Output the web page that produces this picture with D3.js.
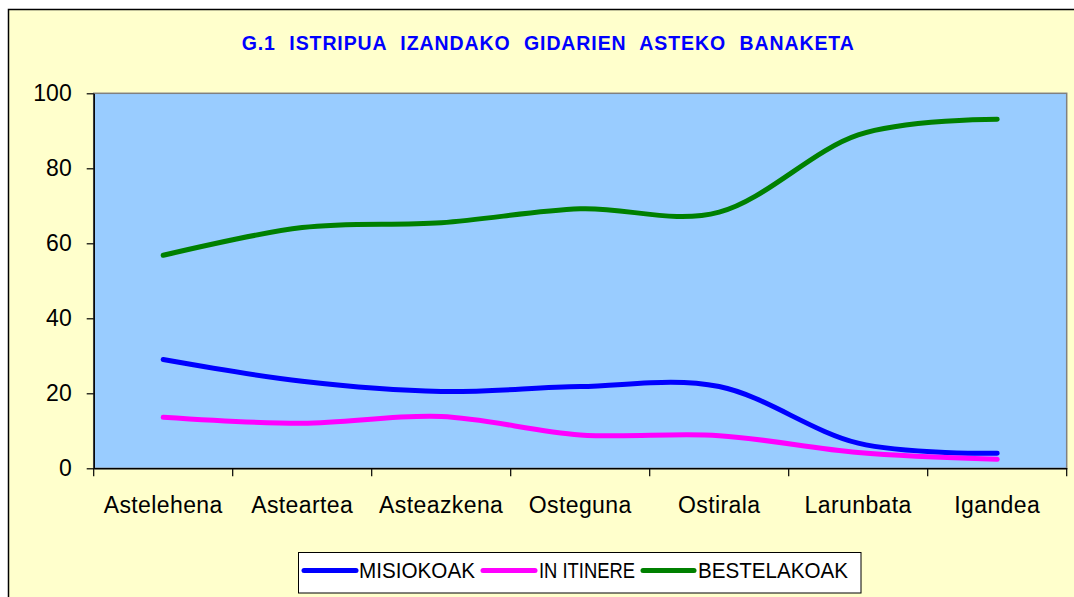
<!DOCTYPE html>
<html>
<head>
<meta charset="utf-8">
<script src="https://cdn.jsdelivr.net/npm/d3@7"></script>
<style>
  html, body { margin: 0; padding: 0; background: #ffffff; }
  svg { display: block; }
  text { font-family: "Liberation Sans", Arial, sans-serif; }
</style>
</head>
<body>
<svg id="chart" width="1074" height="597"></svg>
<script>
const chartTitle = "G.1 ISTRIPUA IZANDAKO GIDARIEN ASTEKO BANAKETA";
const categories = ["Astelehena", "Asteartea", "Asteazkena", "Osteguna", "Ostirala", "Larunbata", "Igandea"];
const misiokoak   = [29.0, 23.2, 20.5, 21.8, 21.8, 6.7, 4.0];
const inItinere   = [13.6, 12.0, 13.8, 8.9, 8.7, 4.2, 2.4];
const bestelakoak = [56.8, 64.2, 65.5, 69.2, 68.3, 88.9, 93.1];
const seriesNames = ["MISIOKOAK", "IN ITINERE", "BESTELAKOAK"];
const seriesColors = ["#0000FF", "#FF00FF", "#008000"];
const yTicks = [0, 20, 40, 60, 80, 100];

(function () {
const series = [misiokoak, inItinere, bestelakoak].map((vals, i) => ({
  name: seriesNames[i], color: seriesColors[i],
  values: categories.map((c, j) => ({ cat: c, v: vals[j] }))
}));

const svg = d3.select("#chart");

// chart area
svg.append("rect")
  .attr("x", 8.5).attr("y", 9.5).attr("width", 1100).attr("height", 620)
  .attr("fill", "#FFFFCC").attr("stroke", "#000").attr("stroke-width", 1.5);

const pL = 93.7, pR = 1066.7, pT = 93.3, pB = 468.3;
const x = d3.scaleBand().domain(categories).range([pL, pR]);
const y = d3.scaleLinear().domain([0, 100]).range([pB, pT]);

// plot area
svg.append("rect")
  .attr("x", pL).attr("y", pT).attr("width", pR - pL).attr("height", pB - pT)
  .attr("fill", "#99CCFF").attr("stroke", "#808080").attr("stroke-width", 1.5);

// title
const title = svg.append("text")
  .attr("x", 241.7).attr("y", 50)
  .attr("fill", "#0000FF").attr("font-weight", "bold").attr("font-size", 19.5)
  .attr("letter-spacing", 0.9)
  .text(chartTitle);
{
  const len = title.node().getComputedTextLength();
  const target = 613;
  title.attr("word-spacing", Math.max(0, (target - len) / 5));
}

// y axis
const yAxis = svg.append("g")
  .attr("transform", `translate(${pL},0)`)
  .call(d3.axisLeft(y).tickValues(yTicks).tickSize(7).tickPadding(15).tickSizeOuter(0));
yAxis.select(".domain").attr("stroke", "#000").attr("stroke-width", 1.5);
yAxis.selectAll(".tick line").attr("stroke", "#000").attr("stroke-width", 1.2);
yAxis.selectAll("text").attr("font-size", 23).attr("fill", "#000")
  .attr("font-family", "Liberation Sans, Arial, sans-serif");

// x axis
const xAxis = svg.append("g")
  .attr("transform", `translate(0,${pB})`)
  .call(d3.axisBottom(x).tickSize(0).tickSizeOuter(0));
xAxis.select(".domain").attr("stroke", "#000").attr("stroke-width", 1.5);
xAxis.selectAll("text")
  .attr("y", 45).attr("dy", 0)
  .attr("font-size", 23).attr("fill", "#000").attr("letter-spacing", 0.4)
  .attr("font-family", "Liberation Sans, Arial, sans-serif");
const bounds = categories.map(c => x(c)).concat([x(categories[categories.length - 1]) + x.bandwidth()]);
xAxis.selectAll(".bound").data(bounds).enter().append("line")
  .attr("class", "bound")
  .attr("x1", d => d).attr("x2", d => d)
  .attr("y1", 0).attr("y2", 8)
  .attr("stroke", "#000").attr("stroke-width", 1.2);

// lines
const line = d3.line()
  .x(d => x(d.cat) + x.bandwidth() / 2)
  .y(d => y(d.v))
  .curve(d3.curveCardinal.tension(0));

svg.append("g").selectAll("path").data(series).enter().append("path")
  .attr("d", d => line(d.values))
  .attr("fill", "none")
  .attr("stroke", d => d.color)
  .attr("stroke-width", 5)
  .attr("stroke-linecap", "round")
  .attr("stroke-linejoin", "round");

// legend
const lg = svg.append("g");
lg.append("rect")
  .attr("x", 298.5).attr("y", 552.5).attr("width", 562.5).attr("height", 40.5)
  .attr("fill", "#fff").attr("stroke", "#000").attr("stroke-width", 1);
const legendItems = [
  { x1: 304, x2: 356, tx: 359, tw: 116 },
  { x1: 483, x2: 535, tx: 539, tw: 96 },
  { x1: 643, x2: 694, tx: 698, tw: 150 }
];
series.forEach((s, i) => {
  const it = legendItems[i];
  lg.append("line")
    .attr("x1", it.x1).attr("x2", it.x2).attr("y1", 570.5).attr("y2", 570.5)
    .attr("stroke", s.color).attr("stroke-width", 5).attr("stroke-linecap", "round");
  lg.append("text")
    .attr("x", it.tx).attr("y", 578.3)
    .attr("font-size", 22).attr("fill", "#000")
    .attr("textLength", it.tw).attr("lengthAdjust", "spacingAndGlyphs")
    .text(s.name);
});
})();
</script>
</body>
</html>
